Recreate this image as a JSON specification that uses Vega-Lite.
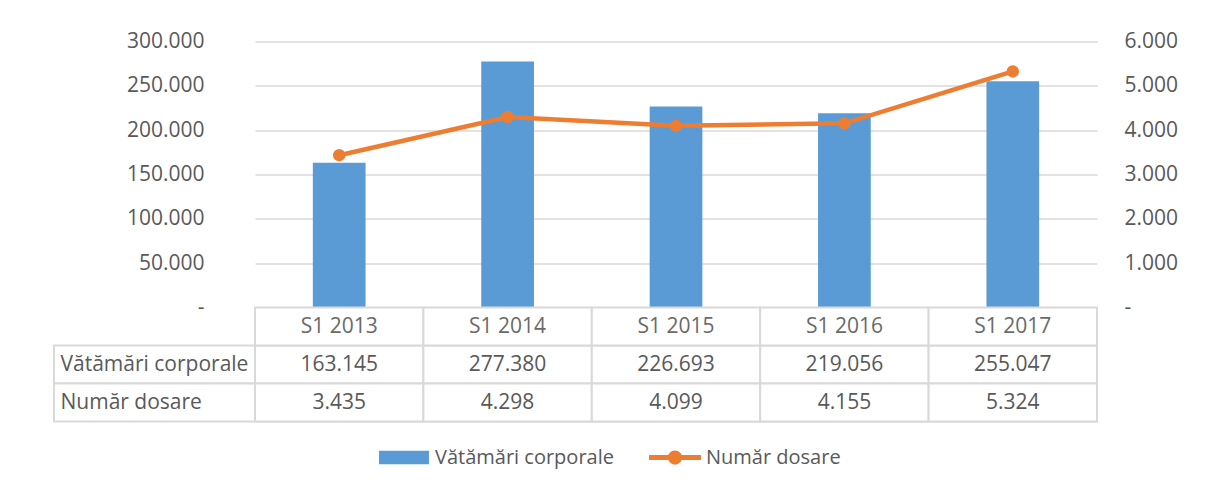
{
  "$schema": "https://vega.github.io/schema/vega-lite/v6.json",
  "width": 1043,
  "height": 380,
  "autosize": {"type": "none"},
  "padding": {"left": 54, "top": 41.5, "right": 111, "bottom": 65.5},
  "background": "white",
  "config": {
    "view": {"stroke": null},
    "font": "Open Sans",
    "locale": {"number": {"decimal": ",", "thousands": ".", "grouping": [3], "currency": ["", ""]}},
    "axis": {"labelFont": "Open Sans", "labelFontSize": 21, "labelColor": "#595959", "labelOverlap": false},
    "text": {"font": "Open Sans"}
  },
  "data": {
    "values": [
      {"cat": "S1 2013", "Vătămări corporale": 163145, "Număr dosare": 3435},
      {"cat": "S1 2014", "Vătămări corporale": 277380, "Număr dosare": 4298},
      {"cat": "S1 2015", "Vătămări corporale": 226693, "Număr dosare": 4099},
      {"cat": "S1 2016", "Vătămări corporale": 219056, "Număr dosare": 4155},
      {"cat": "S1 2017", "Vătămări corporale": 255047, "Număr dosare": 5324}
    ]
  },
  "resolve": {"scale": {"y": "independent"}, "axis": {"y": "independent"}},
  "layer": [
    {
      "mark": {"type": "bar", "width": {"band": 0.313}},
      "encoding": {
        "x": {"field": "cat", "type": "nominal", "scale": {"type": "band", "range": [201, 1043], "paddingInner": 0, "paddingOuter": 0}, "axis": null},
        "y": {
          "field": "Vătămări corporale", "type": "quantitative",
          "scale": {"domain": [0, 300000], "range": [266, 0], "nice": false},
          "axis": {"orient": "left", "values": [0, 50000, 100000, 150000, 200000, 250000, 300000], "format": ",d",
                   "labelExpr": "datum.value === 0 ? '-\u00a0\u00a0' : datum.label",
                   "offset": -150, "labelPadding": 0, "ticks": false, "tickSize": 0, "domain": false,
                   "grid": true, "gridColor": "#D9D9D9", "gridWidth": 1.5, "title": null}
        },
        "color": {
          "datum": "Vătămări corporale", "type": "nominal",
          "scale": {"domain": ["Vătămări corporale", "Număr dosare"], "range": ["#5B9BD5", "#ED7D31"]},
          "legend": {
            "orient": "none", "legendX": 324, "legendY": 390, "direction": "horizontal", "title": null,
            "symbolSize": 2704, "labelOffset": 5, "columnPadding": 35, "padding": 0,
            "labelFont": "Open Sans", "labelFontSize": 20, "labelColor": "#595959", "labelLimit": 0,
            "symbolStrokeWidth": 0,
            "encode": {
              "symbols": {
                "update": {
                  "shape": {"signal": "datum.value === 'Vătămări corporale' ? 'M-0.96,-0.256H0.96V0.256H-0.96Z' : 'M-1,-0.096H1V0.096H-1Z M0.27,0A0.27,0.27 0 1 1 -0.27,0A0.27,0.27 0 1 1 0.27,0Z'"},
                  "fill": {"scale": "color", "field": "value"},
                  "fillOpacity": {"value": 1},
                  "opacity": {"value": 1},
                  "stroke": {"value": "transparent"},
                  "strokeWidth": {"value": 0}
                }
              }
            }
          }
        }
      }
    },
    {
      "encoding": {
        "x": {"field": "cat", "type": "nominal", "scale": {"type": "band", "range": [201, 1043], "paddingInner": 0, "paddingOuter": 0}, "axis": null},
        "y": {
          "field": "Număr dosare", "type": "quantitative",
          "scale": {"domain": [0, 6000], "range": [266, 0], "nice": false},
          "axis": {"orient": "right", "values": [0, 1000, 2000, 3000, 4000, 5000, 6000], "format": ",d",
                   "labelExpr": "datum.value === 0 ? '\u00a0-' : datum.label",
                   "labelPadding": 27, "ticks": false, "tickSize": 0, "domain": false, "grid": false, "title": null}
        },
        "color": {"datum": "Număr dosare", "type": "nominal"}
      },
      "layer": [
        {"mark": {"type": "line", "strokeWidth": 4.5}},
        {"mark": {"type": "point", "filled": true, "size": 154, "opacity": 1}}
      ]
    },
    {
      "layer": [
        {
          "transform": [
            {"fold": ["Vătămări corporale", "Număr dosare"], "as": ["row", "val"]},
            {"aggregate": [{"op": "count", "as": "n"}], "groupby": ["row"]}
          ],
          "mark": {"type": "rect", "fill": "white", "stroke": "#D9D9D9", "strokeWidth": 2},
          "encoding": {
            "y": {"field": "row", "type": "nominal",
                  "scale": {"type": "band", "domain": ["hdr", "Vătămări corporale", "Număr dosare"], "range": [266, 380], "paddingInner": 0, "paddingOuter": 0},
                  "axis": {"orient": "left", "labelAlign": "left", "labelPadding": -6, "ticks": false, "tickSize": 0, "domain": false, "grid": false, "title": null, "labelLimit": 0, "labelFontSize": 21, "labelExpr": "datum.value === 'hdr' ? '' : datum.label"}}
          }
        },
        {
          "transform": [{"fold": ["Vătămări corporale", "Număr dosare"], "as": ["row", "val"]}],
          "mark": {"type": "rect", "fill": "white", "stroke": "#D9D9D9", "strokeWidth": 2},
          "encoding": {
            "x": {"field": "cat", "type": "nominal", "scale": {"type": "band", "range": [201, 1043], "paddingInner": 0, "paddingOuter": 0}, "axis": null},
            "y": {"field": "row", "type": "nominal",
                  "scale": {"type": "band", "domain": ["hdr", "Vătămări corporale", "Număr dosare"], "range": [266, 380], "paddingInner": 0, "paddingOuter": 0},
                  "axis": {"orient": "left", "labelAlign": "left", "labelPadding": -6, "ticks": false, "tickSize": 0, "domain": false, "grid": false, "title": null, "labelLimit": 0, "labelFontSize": 21, "labelExpr": "datum.value === 'hdr' ? '' : datum.label"}}
          }
        },
        {
          "mark": {"type": "rect", "fill": "white", "stroke": "#D9D9D9", "strokeWidth": 2},
          "encoding": {
            "x": {"field": "cat", "type": "nominal", "scale": {"type": "band", "range": [201, 1043], "paddingInner": 0, "paddingOuter": 0}, "axis": null},
            "y": {"datum": "hdr", "type": "nominal",
                  "scale": {"type": "band", "domain": ["hdr", "Vătămări corporale", "Număr dosare"], "range": [266, 380], "paddingInner": 0, "paddingOuter": 0},
                  "axis": {"orient": "left", "labelAlign": "left", "labelPadding": -6, "ticks": false, "tickSize": 0, "domain": false, "grid": false, "title": null, "labelLimit": 0, "labelFontSize": 21, "labelExpr": "datum.value === 'hdr' ? '' : datum.label"}}
          }
        },
        {
          "transform": [{"fold": ["Vătămări corporale", "Număr dosare"], "as": ["row", "val"]}],
          "mark": {"type": "text", "fontSize": 21, "color": "#595959", "font": "Open Sans"},
          "encoding": {
            "x": {"field": "cat", "type": "nominal", "scale": {"type": "band", "range": [201, 1043], "paddingInner": 0, "paddingOuter": 0}, "axis": null},
            "y": {"field": "row", "type": "nominal",
                  "scale": {"type": "band", "domain": ["hdr", "Vătămări corporale", "Număr dosare"], "range": [266, 380], "paddingInner": 0, "paddingOuter": 0},
                  "axis": {"orient": "left", "labelAlign": "left", "labelPadding": -6, "ticks": false, "tickSize": 0, "domain": false, "grid": false, "title": null, "labelLimit": 0, "labelFontSize": 21, "labelExpr": "datum.value === 'hdr' ? '' : datum.label"}},
            "text": {"field": "val", "type": "quantitative", "format": ",d"}
          }
        },
        {
          "mark": {"type": "text", "fontSize": 21, "color": "#6a6a6a", "font": "Open Sans"},
          "encoding": {
            "x": {"field": "cat", "type": "nominal", "scale": {"type": "band", "range": [201, 1043], "paddingInner": 0, "paddingOuter": 0}, "axis": null},
            "y": {"datum": "hdr", "type": "nominal",
                  "scale": {"type": "band", "domain": ["hdr", "Vătămări corporale", "Număr dosare"], "range": [266, 380], "paddingInner": 0, "paddingOuter": 0},
                  "axis": {"orient": "left", "labelAlign": "left", "labelPadding": -6, "ticks": false, "tickSize": 0, "domain": false, "grid": false, "title": null, "labelLimit": 0, "labelFontSize": 21, "labelExpr": "datum.value === 'hdr' ? '' : datum.label"}},
            "text": {"field": "cat", "type": "nominal"}
          }
        }
      ]
    }
  ]
}
